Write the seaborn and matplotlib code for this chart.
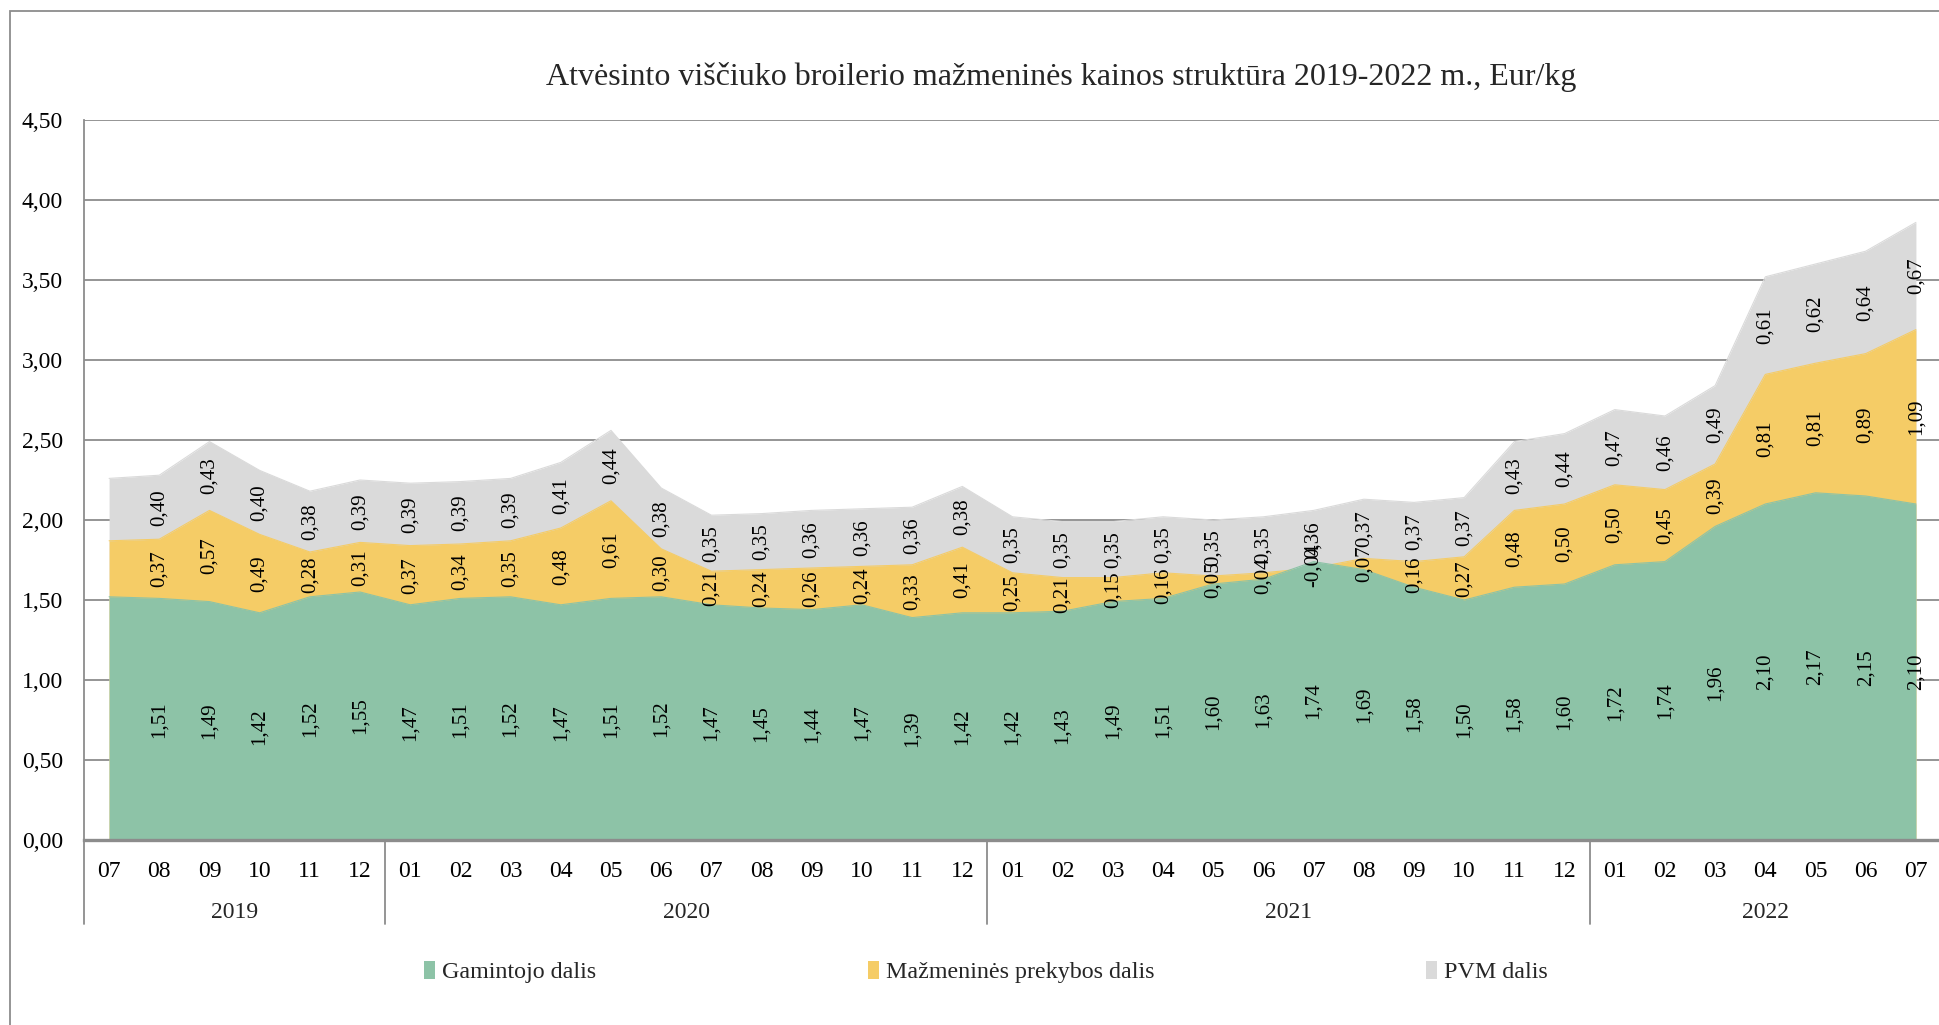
import numpy as np
import pandas as pd
import seaborn as sns
import matplotlib.pyplot as plt
from matplotlib.patches import Patch, Rectangle
from matplotlib.transforms import blended_transform_factory

# months 2019-07 .. 2022-07
months = ["07", "08", "09", "10", "11", "12"] + \
    ["01", "02", "03", "04", "05", "06", "07", "08", "09", "10", "11", "12"] * 2 + \
    ["01", "02", "03", "04", "05", "06", "07"]
years = ["2019", "2020", "2021", "2022"]
year_counts = [6, 12, 12, 7]

producer = [1.52, 1.51, 1.49, 1.42, 1.52, 1.55,
            1.47, 1.51, 1.52, 1.47, 1.51, 1.52, 1.47, 1.45, 1.44, 1.47, 1.39, 1.42,
            1.42, 1.43, 1.49, 1.51, 1.60, 1.63, 1.74, 1.69, 1.58, 1.50, 1.58, 1.60,
            1.72, 1.74, 1.96, 2.10, 2.17, 2.15, 2.10]
retail = [0.35, 0.37, 0.57, 0.49, 0.28, 0.31,
          0.37, 0.34, 0.35, 0.48, 0.61, 0.30, 0.21, 0.24, 0.26, 0.24, 0.33, 0.41,
          0.25, 0.21, 0.15, 0.16, 0.05, 0.04, -0.04, 0.07, 0.16, 0.27, 0.48, 0.50,
          0.50, 0.45, 0.39, 0.81, 0.81, 0.89, 1.09]
vat = [0.39, 0.40, 0.43, 0.40, 0.38, 0.39,
       0.39, 0.39, 0.39, 0.41, 0.44, 0.38, 0.35, 0.35, 0.36, 0.36, 0.36, 0.38,
       0.35, 0.35, 0.35, 0.35, 0.35, 0.35, 0.36, 0.37, 0.37, 0.37, 0.43, 0.44,
       0.47, 0.46, 0.49, 0.61, 0.62, 0.64, 0.67]

series_names = ["Gamintojo dalis", "Mažmeninės prekybos dalis", "PVM dalis"]
colors = ["#8DC3A7", "#F5CC66", "#DADADA"]

df = pd.DataFrame({"x": np.arange(len(months)), "producer": producer,
                   "retail": retail, "vat": vat})
df["c1"] = df["producer"]
df["c2"] = df["c1"] + df["retail"]
df["c3"] = df["c2"] + df["vat"]

sns.set_theme(style="white")
plt.rcParams['font.family'] = ['Liberation Serif', 'DejaVu Serif']

W, H = 1939, 1025
fig = plt.figure(figsize=(W / 100, H / 100), dpi=100)
ax = fig.add_axes([84 / W, 1 - 840 / H, 1857 / W, 720 / H])

# excel style: each series filled from zero, top series first
for col, c in zip(["c3", "c2", "c1"], colors[::-1]):
    ax.fill_between(df["x"], 0, df[col], color=c, lw=0, zorder=2)
    sns.lineplot(data=df, x="x", y=col, color=c, lw=0.8, ax=ax, zorder=2)

# data labels (first month has none)
def fmt(v):
    return f"{v:.2f}".replace(".", ",")

for i in range(1, len(df)):
    r = df.iloc[i]
    for val, lo, hi in [(r.producer, 0, r.c1), (r.retail, r.c1, r.c2), (r.vat, r.c2, r.c3)]:
        ax.text(r.x, (lo + hi) / 2, fmt(val), rotation=90, ha="center", va="center",
                fontsize=15, color="black", zorder=5)

ax.set_xlim(-0.5, len(months) - 0.5)
ax.set_ylim(0, 4.5)
yt = np.arange(0, 4.51, 0.5)
ax.set_yticks(yt, [fmt(v) for v in yt])
ax.set_xticks(df["x"], months)
ax.tick_params(axis="both", length=0, labelsize=17, colors="black")
ax.tick_params(axis="x", pad=15)
ax.tick_params(axis="y", pad=15)
ax.set_xlabel("")
ax.set_ylabel("")
ax.set_axisbelow(True)
ax.yaxis.grid(True, color="#8c8c8c", lw=1.3, zorder=0)
ax.xaxis.grid(False)
for s in ["top", "right"]:
    ax.spines[s].set_visible(False)
ax.spines["left"].set_color("#8c8c8c")
ax.spines["left"].set_linewidth(1.3)
ax.spines["bottom"].set_color("#8c8c8c")
ax.spines["bottom"].set_linewidth(2.4)
ax.spines["bottom"].set_zorder(6)

# year group separators and labels
tr = blended_transform_factory(ax.transData, ax.transAxes)
start = -0.5
low = -(924 - 840) / 720
for yr, n in zip(years, year_counts):
    ax.plot([start, start], [0, low], transform=tr, color="#8c8c8c", lw=1.3, clip_on=False)
    ax.text(start + n / 2, -(912 - 840) / 720, yr, transform=tr, ha="center", va="center",
            fontsize=17)
    start += n

fig.text(1061 / W, 1 - 77 / H,
         "Atvėsinto viščiuko broilerio mažmeninės kainos struktūra 2019-2022 m., Eur/kg",
         ha="center", va="center", fontsize=23)

handles = [Patch(facecolor=c, edgecolor="none") for c in colors]
fig.legend(handles, series_names, loc="center", bbox_to_anchor=(986 / W, 1 - 972 / H),
           ncol=3, frameon=False, fontsize=17.3, handlelength=0.45, handleheight=0.75,
           handletextpad=0.3, columnspacing=11.3)

fig.patches.append(Rectangle((10 / W, -0.1), 2, 1.1 - 11 / H, transform=fig.transFigure,
                             fill=False, edgecolor="#8c8c8c", lw=1.3))

fig.savefig("out.png", dpi=100)
